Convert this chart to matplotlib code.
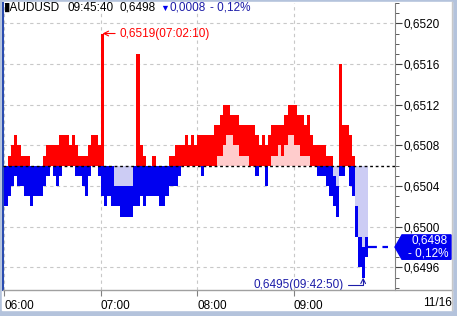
import matplotlib.pyplot as plt
import matplotlib.lines as mlines
import matplotlib.patches as mpatches
import matplotlib.transforms as mtransforms
import numpy as np

plt.rcParams['font.family'] = ['Liberation Sans', 'DejaVu Sans']
plt.rcParams['font.size'] = 8.5

# 2 minute buckets starting 06:00 (minutes after 06:00)
base = 0.6506   # previous close
close = 0.6498
hi = [0.6506, 0.6507, 0.6508, 0.6509, 0.6508, 0.6507, 0.6507, 0.6507, 0.6506, 0.6506,
      0.6506, 0.6506, 0.6507, 0.6508, 0.6508, 0.6508, 0.6508, 0.6509, 0.6509, 0.6509,
      0.6508, 0.6509, 0.6508, 0.6507, 0.6507, 0.6507, 0.6508, 0.6509, 0.6509, 0.6508,
      0.6519, 0.6506, 0.6506, 0.6506, 0.6504, 0.6504, 0.6504, 0.6504, 0.6504, 0.6504,
      0.6506, 0.6517, 0.6508, 0.6507, 0.6506, 0.6506, 0.6507, 0.6506, 0.6506, 0.6506,
      0.6506, 0.6507, 0.6507, 0.6508, 0.6508, 0.6508, 0.6509, 0.6508, 0.6509, 0.6508,
      0.6509, 0.6509, 0.6509, 0.6509, 0.6509, 0.6510, 0.6510, 0.6511, 0.6512, 0.6512,
      0.6511, 0.6511, 0.6511, 0.6510, 0.6510, 0.6510, 0.6510, 0.6510, 0.6509, 0.6508,
      0.6509, 0.6508, 0.6509, 0.6510, 0.6510, 0.6510, 0.6510, 0.6511, 0.6512, 0.6512,
      0.6512, 0.6511, 0.6511, 0.6510, 0.6511, 0.6509, 0.6508, 0.6508, 0.6508, 0.6508,
      0.6507, 0.6507, 0.6505, 0.6504, 0.6516, 0.6510, 0.6510, 0.6509, 0.6507, 0.6502,
      0.6499, 0.6498, 0.6499]
lo = [0.6502, 0.6503, 0.6504, 0.6505, 0.6504, 0.6504, 0.6503, 0.6503, 0.6502, 0.6503,
      0.6503, 0.6503, 0.6504, 0.6505, 0.6506, 0.6505, 0.6504, 0.6505, 0.6506, 0.6506,
      0.6506, 0.6506, 0.6505, 0.6505, 0.6504, 0.6503, 0.6505, 0.6506, 0.6506, 0.6505,
      0.6503, 0.6502, 0.6503, 0.6502, 0.6502, 0.6502, 0.6501, 0.6501, 0.6501, 0.6501,
      0.6502, 0.6502, 0.6503, 0.6502, 0.6503, 0.6503, 0.6503, 0.6503, 0.6502, 0.6502,
      0.6503, 0.6504, 0.6504, 0.6504, 0.6505, 0.6506, 0.6506, 0.6506, 0.6506, 0.6506,
      0.6506, 0.6505, 0.6506, 0.6506, 0.6506, 0.6506, 0.6507, 0.6507, 0.6508, 0.6509,
      0.6509, 0.6508, 0.6508, 0.6507, 0.6507, 0.6507, 0.6506, 0.6506, 0.6505, 0.6506,
      0.6506, 0.6504, 0.6506, 0.6507, 0.6507, 0.6508, 0.6507, 0.6508, 0.6509, 0.6509,
      0.6508, 0.6508, 0.6507, 0.6507, 0.6507, 0.6506, 0.6506, 0.6505, 0.6505, 0.6505,
      0.6504, 0.6503, 0.6502, 0.6501, 0.6505, 0.6505, 0.6506, 0.6504, 0.6503, 0.6499,
      0.6496, 0.6495, 0.6497]
step = 2
t = np.arange(len(hi)) * step

hour_ticks = [0, 60, 120, 180]
hour_labels = ['06:00', '07:00', '08:00', '09:00']
date_label = '11/16'
y_ticks = [0.6496, 0.6500, 0.6504, 0.6508, 0.6512, 0.6516, 0.6520]
peak_time = '07:02:10'
low_time = '09:42:50'

W, H = 457, 316
RED = '#ff0000'
BLUE = '#0000f0'
NAVY = '#1c1ca8'

fig = plt.figure(figsize=(W / 100, H / 100), dpi=100, facecolor='#b4c3dc')
fig.patches.append(mpatches.Rectangle((2 / W, 6 / H), 450 / W, 308 / H,
                                      transform=fig.transFigure, color='white', zorder=-5))
ax = fig.add_axes([3 / W, 26 / H, 392 / W, 287 / H])
ax.set_xlim(-0.93, 242.8)
ax.set_ylim(0.649378, 0.652145)

hi = np.array(hi)
lo = np.array(lo)
xe = np.append(t, t[-1] + step)
def ext(a):
    return np.append(a, a[-1])

# pale area between the previous close and the bar
ax.fill_between(xe, base, ext(np.maximum(lo, base)), step='post', color='#ffcccc', lw=0, zorder=2)
ax.fill_between(xe, ext(np.minimum(hi, base)), base, step='post', color='#ccccf4', lw=0, zorder=2)
# high-low bars, red above / blue below previous close
ax.fill_between(xe, ext(np.maximum(lo, base)), ext(np.maximum(hi, base)), step='post',
                color=RED, lw=0, zorder=3)
ax.fill_between(xe, ext(np.minimum(lo, base)), ext(np.minimum(hi, base)), step='post',
                color=BLUE, lw=0, zorder=3)

ax.axhline(base, color='black', linestyle=(0, (2, 2)), lw=1, zorder=4)
ax.plot([xe[-1], 238.5], [close, close], color=BLUE, linestyle=(0, (4, 2.5)), lw=1.6, zorder=4)

ax.set_axisbelow(True)
ax.grid(True, which='major', color='#c8c8c8', linestyle=(0, (3, 3)), lw=0.8)

ax.set_xticks(hour_ticks)
ax.set_xticklabels(hour_labels, ha='left')
ax.tick_params(axis='x', length=4, color='#808080', pad=3, labelsize=8.5)

ax.yaxis.tick_right()
ax.set_yticks(y_ticks)
ax.set_yticklabels([f'{v:.4f}'.replace('.', ',') for v in y_ticks])
ax.set_yticks(np.round(np.arange(0.6494, 0.6522, 0.0001), 4), minor=True)
ax.tick_params(axis='y', which='major', length=5, pad=1, color='#404040', labelsize=8.5)
ax.tick_params(axis='y', which='minor', length=3, color='#404040')

ax.spines['top'].set_visible(False)
ax.spines['bottom'].set_visible(False)
ax.spines['left'].set_color('#2a4cb0')
ax.spines['left'].set_linewidth(1.5)
ax.spines['right'].set_color('#808080')
fig.add_artist(mlines.Line2D([3 / W, 452 / W], [26 / H, 26 / H], color='#a0a0a0', lw=1))
fig.add_artist(mlines.Line2D([452 / W, 452 / W], [6 / H, 314 / H], color='#c8c8c8', lw=1))

# max / min annotations
kp = int(np.argmax(hi))
ax.annotate(f'{hi[kp]:.4f}'.replace('.', ',') + f'({peak_time})',
            xy=(t[kp] + 1, hi[kp]), xytext=(12, 0), textcoords='offset points',
            ha='left', va='center', color=RED, fontsize=8.5,
            arrowprops=dict(arrowstyle='->', color=RED, lw=0.8, shrinkA=1, shrinkB=0))
kl = int(np.argmin(lo))
ax.annotate(f'{lo[kl]:.4f}'.replace('.', ',') + f'({low_time})',
            xy=(t[kl] + 1, lo[kl]), xytext=(-14, -5), textcoords='offset points',
            ha='right', va='center', color=NAVY, fontsize=8.5,
            arrowprops=dict(arrowstyle='->', color=NAVY, lw=0.8, shrinkA=1, shrinkB=0,
                            connectionstyle='angle,angleA=0,angleB=90,rad=0'))

# current price box on the right axis
tr = mtransforms.blended_transform_factory(fig.transFigure, ax.transData)
h = 0.00012
box = mpatches.Polygon([(395 / W, close), (402 / W, close + h), (451 / W, close + h),
                        (451 / W, close - h), (402 / W, close - h)],
                       closed=True, transform=tr, color=BLUE, clip_on=False, zorder=5)
fig.add_artist(box)
chg = (close - base) / base * 100
fig.text(448 / W, close + 0.00006, f'{close:.4f}'.replace('.', ','), transform=tr,
         color='white', ha='right', va='center', fontsize=8.5, zorder=6)
fig.text(448 / W, close - 0.00006, f'- {abs(chg):.2f}%'.replace('.', ','), transform=tr,
         color='white', ha='right', va='center', fontsize=8.5, zorder=6)

fig.text(452 / W, (H - 303) / H, date_label, ha='right', va='center', fontsize=8.5)

# header
ty = (H - 8) / H
fig.text(4 / W, ty, '▮AUDUSD', ha='left', va='center', fontsize=8.5)
fig.text(67 / W, ty, '09:45:40', ha='left', va='center', fontsize=8.5)
fig.text(119 / W, ty, f'{close:.4f}'.replace('.', ','), ha='left', va='center', fontsize=8.5)
fig.text(160 / W, ty, '▼', ha='left', va='center', fontsize=6.5, color=BLUE)
fig.text(170 / W, ty, f'{base - close:.4f}'.replace('.', ','), ha='left', va='center',
         fontsize=8.5, color=NAVY)
fig.text(210 / W, ty, f'- {abs(chg):.2f}%'.replace('.', ','), ha='left', va='center',
         fontsize=8.5, color=NAVY)

fig.savefig('out.png', dpi=100, facecolor=fig.get_facecolor())
